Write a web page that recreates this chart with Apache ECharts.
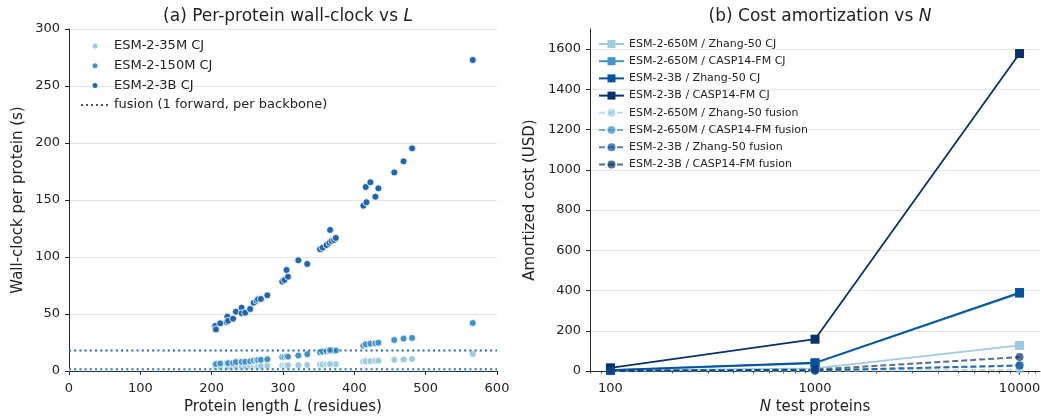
<!DOCTYPE html>
<html><head><meta charset="utf-8">
<script src="https://cdn.jsdelivr.net/npm/echarts@6/dist/echarts.min.js"></script>
<style>html,body{margin:0;padding:0;background:#fff}#c{width:1041px;height:416px}</style>
</head><body><div id="c"></div>
<script>
// ---------- Panel (a) data ----------
const proteinLength = [205,206,212,221,222,223,230,234,242,242,247,254,259,263,265,269,278,299,302,305,307,321.5,334,352,355.5,361,365,368,371.5,374,366,412.6,417,416,422.5,429.5,433.7,456,469,481,566];
const time3B   = [39.5,36.5,41.8,43,47.7,44,45.9,52,55.5,50.6,51.1,54.4,59.9,61.7,62.9,63.2,66.4,78.4,79.8,88.6,82.7,97.1,93.9,106.8,108.2,110.5,112.5,114,114.9,116.7,123.7,145,148,161.4,165.5,152.9,160.2,174.2,183.9,195.3,272.8];
const time150M = [6.2,6.0,6.5,6.8,7.2,6.9,7.1,7.8,8.4,8.0,8.1,8.5,9.2,9.4,9.6,9.8,10.3,12.2,12.4,12.8,12.6,13.6,14.8,16.4,17.0,17.4,17.8,17.9,17.6,18.0,18.3,22.2,23.0,23.4,24.0,24.3,24.8,27.2,28.4,29.0,42.1];
const time35M  = [3.4,3.3,3.5,3.6,3.8,3.7,3.8,4.0,4.1,4.0,4.1,4.2,4.3,4.3,4.4,4.4,4.5,4.8,4.9,5.0,5.0,5.1,5.2,5.6,5.7,5.8,5.9,5.9,6.0,6.0,6.1,8.3,8.5,8.6,8.7,8.9,9.0,9.8,10.1,10.6,14.9];
const fusion35M = 0.6, fusion150M = 1.8, fusion3B = 18.0;
const xRangeA = [0, 600];
const xTicksA = [0,100,200,300,400,500,600];
const yTicksA = [0,50,100,150,200,250,300];

// ---------- Panel (b) data ----------
const nProteins = [100, 1000, 10000];
const cj650Zhang = [1.3, 12.7, 127];
const cj650Casp  = [3.9, 38.5, 386];
const cj3BZhang  = [4.0, 41, 390];
const cj3BCasp   = [15.8, 158, 1578];
const fu650Zhang = [0.06, 0.6, 6];
const fu650Casp  = [0.26, 2.6, 26];
const fu3BZhang  = [0.28, 2.8, 28];
const fu3BCasp   = [0.69, 6.9, 69];
const xTicksB = [100, 1000, 10000];
const xMinorB = [80,90,200,300,400,500,600,700,800,900,2000,3000,4000,5000,6000,7000,8000,9000,11000,12000];
const yTicksB = [0,200,400,600,800,1000,1200,1400,1600];

const FONT = 'DejaVu Sans';
const AX = '#262626';
const GRID = '#e5e5e5';
const C35 = '#9ecae1', C150 = '#4292c6', C3B = '#2166ac';
const B1 = '#9ecae1', B2 = '#4292c6', B3 = '#08519c', B4 = '#08306b';

const zip = (a, b) => a.map((v, i) => [v, b[i]]);

function axisCommon(extra) {
  return Object.assign({
    axisLine: {show: true, lineStyle: {color: AX, width: 1}},
    axisTick: {show: true, inside: false, length: 4, lineStyle: {color: AX, width: 1}},
    axisLabel: {color: '#222', fontSize: 13, fontFamily: FONT},
    nameTextStyle: {color: '#222', fontSize: 15, fontFamily: FONT,
      rich: {i: {fontStyle: 'italic', fontSize: 15, fontFamily: FONT, color: '#222'}}},
    nameLocation: 'middle'
  }, extra);
}

const scatterStyle = (c) => ({color: c, borderColor: '#fff', borderWidth: 0.8, opacity: 1});

const option = {
  animation: false,
  backgroundColor: '#fff',
  textStyle: {fontFamily: FONT},
  title: [
    {text: '(a) Per-protein wall-clock vs {i|L}', left: 283, top: 3, textAlign: 'center',
     textStyle: {fontSize: 17, fontWeight: 'normal', color: '#222', fontFamily: FONT,
       rich: {i: {fontStyle: 'italic', fontSize: 17, fontFamily: FONT, color: '#222'}}}},
    {text: '(b) Cost amortization vs {i|N}', left: 815, top: 3, textAlign: 'center',
     textStyle: {fontSize: 17, fontWeight: 'normal', color: '#222', fontFamily: FONT,
       rich: {i: {fontStyle: 'italic', fontSize: 17, fontFamily: FONT, color: '#222'}}}}
  ],
  grid: [
    {left: 69, top: 29, width: 428, height: 342, outerBoundsMode: 'none', containLabel: false},
    {left: 590, top: 29, width: 450, height: 342, outerBoundsMode: 'none', containLabel: false}
  ],
  legend: [
    {data: [
       {name: 'ESM-2-35M CJ', icon: 'circle'},
       {name: 'ESM-2-150M CJ', icon: 'circle'},
       {name: 'ESM-2-3B CJ', icon: 'circle'},
       {name: 'fusion (1 forward, per backbone)', itemStyle: {opacity: 0}}],
     orient: 'vertical', left: 80, top: 39, itemWidth: 28, itemHeight: 7, itemGap: 5.7,
     padding: 0,
     textStyle: {fontSize: 13, fontFamily: FONT, color: '#222', lineHeight: 14}},
    {data: ['ESM-2-650M / Zhang-50 CJ','ESM-2-650M / CASP14-FM CJ','ESM-2-3B / Zhang-50 CJ','ESM-2-3B / CASP14-FM CJ',
            'ESM-2-650M / Zhang-50 fusion','ESM-2-650M / CASP14-FM fusion','ESM-2-3B / Zhang-50 fusion','ESM-2-3B / CASP14-FM fusion'],
     orient: 'vertical', left: 598, top: 38, itemWidth: 25, itemHeight: 10, itemGap: 5.2,
     padding: 0,
     textStyle: {fontSize: 11, fontFamily: FONT, color: '#222', lineHeight: 12}}
  ],
  xAxis: [
    axisCommon({gridIndex: 0, type: 'value', min: xRangeA[0], max: xRangeA[1], interval: 100,
      splitLine: {show: false}, name: 'Protein length {i|L} (residues)', nameGap: 28,
      axisLabel: {color: '#222', fontSize: 13, fontFamily: FONT, margin: 11,
        customValues: xTicksA}, axisTick: {show: true, length: 4, lineStyle: {color: AX}, customValues: xTicksA}}),
    axisCommon({gridIndex: 1, type: 'log', logBase: 10, min: 79.43, max: 12589,
      splitLine: {show: false}, name: '{i|N} test proteins', nameGap: 28,
      axisLabel: {color: '#222', fontSize: 13, fontFamily: FONT, margin: 11, customValues: xTicksB,
        formatter: (v) => String(Math.round(v))},
      axisTick: {show: true, length: 4, lineStyle: {color: AX}, customValues: xTicksB}}),
    {gridIndex: 1, type: 'log', logBase: 10, min: 79.43, max: 12589, position: 'bottom',
      axisLine: {show: false}, axisLabel: {show: false}, splitLine: {show: false},
      axisTick: {show: true, length: 2.5, lineStyle: {color: AX, width: 0.8}, customValues: xMinorB}}
  ],
  yAxis: [
    axisCommon({gridIndex: 0, type: 'value', min: 0, max: 300, interval: 50,
      splitLine: {show: true, lineStyle: {color: GRID, width: 1}},
      name: 'Wall-clock per protein (s)', nameGap: 43,
      axisLabel: {color: '#222', fontSize: 13, fontFamily: FONT, margin: 9, customValues: yTicksA},
      axisTick: {show: true, length: 4, lineStyle: {color: AX}, customValues: yTicksA}}),
    axisCommon({gridIndex: 1, type: 'value', min: 0, max: 1700, interval: 100,
      splitLine: {show: true, lineStyle: {color: GRID, width: 1}},
      name: 'Amortized cost (USD)', nameGap: 52,
      axisLabel: {color: '#222', fontSize: 13, fontFamily: FONT, margin: 9, customValues: yTicksB,
        formatter: (v) => String(v)},
      axisTick: {show: true, length: 4, lineStyle: {color: AX}, customValues: yTicksB}})
  ],
  series: [
    {name: 'ESM-2-35M CJ', type: 'scatter', xAxisIndex: 0, yAxisIndex: 0, symbolSize: 7,
     itemStyle: scatterStyle(C35), data: zip(proteinLength, time35M)},
    {name: 'ESM-2-150M CJ', type: 'scatter', xAxisIndex: 0, yAxisIndex: 0, symbolSize: 7,
     itemStyle: scatterStyle(C150), data: zip(proteinLength, time150M)},
    {name: 'ESM-2-3B CJ', type: 'scatter', xAxisIndex: 0, yAxisIndex: 0, symbolSize: 7,
     itemStyle: scatterStyle(C3B), data: zip(proteinLength, time3B)},
    {name: 'fusion35', type: 'line', xAxisIndex: 0, yAxisIndex: 0, symbol: 'none', silent: true,
     lineStyle: {color: C35, width: 2, type: [2, 3.2]}, data: [[xRangeA[0], fusion35M], [xRangeA[1], fusion35M]]},
    {name: 'fusion150', type: 'line', xAxisIndex: 0, yAxisIndex: 0, symbol: 'none', silent: true,
     lineStyle: {color: C150, width: 2, type: [2, 3.2]}, data: [[xRangeA[0], fusion150M], [xRangeA[1], fusion150M]]},
    {name: 'fusion3B', type: 'line', xAxisIndex: 0, yAxisIndex: 0, symbol: 'none', silent: true,
     lineStyle: {color: C3B, width: 2, type: [2, 3.2]}, data: [[xRangeA[0], fusion3B], [xRangeA[1], fusion3B]]},
    {name: 'fusion (1 forward, per backbone)', type: 'line', xAxisIndex: 0, yAxisIndex: 0, symbol: 'none',
     itemStyle: {color: '#555'}, lineStyle: {color: '#555', width: 2, type: [2, 3]}, data: []},

    {name: 'ESM-2-650M / Zhang-50 CJ', type: 'line', xAxisIndex: 1, yAxisIndex: 1, symbol: 'rect', symbolSize: 9,
     itemStyle: {color: B1}, lineStyle: {color: B1, width: 1.8}, data: zip(nProteins, cj650Zhang)},
    {name: 'ESM-2-650M / CASP14-FM CJ', type: 'line', xAxisIndex: 1, yAxisIndex: 1, symbol: 'rect', symbolSize: 9,
     itemStyle: {color: B2}, lineStyle: {color: B2, width: 1.8}, data: zip(nProteins, cj650Casp)},
    {name: 'ESM-2-3B / Zhang-50 CJ', type: 'line', xAxisIndex: 1, yAxisIndex: 1, symbol: 'rect', symbolSize: 9,
     itemStyle: {color: B3}, lineStyle: {color: B3, width: 1.8}, data: zip(nProteins, cj3BZhang)},
    {name: 'ESM-2-3B / CASP14-FM CJ', type: 'line', xAxisIndex: 1, yAxisIndex: 1, symbol: 'rect', symbolSize: 9,
     itemStyle: {color: B4}, lineStyle: {color: B4, width: 1.8}, data: zip(nProteins, cj3BCasp)},
    {name: 'ESM-2-650M / Zhang-50 fusion', type: 'line', xAxisIndex: 1, yAxisIndex: 1, symbol: 'circle', symbolSize: 8,
     itemStyle: {color: B1, opacity: 0.7}, lineStyle: {color: B1, width: 2, type: [6, 3], opacity: 0.7}, data: zip(nProteins, fu650Zhang)},
    {name: 'ESM-2-650M / CASP14-FM fusion', type: 'line', xAxisIndex: 1, yAxisIndex: 1, symbol: 'circle', symbolSize: 8,
     itemStyle: {color: B2, opacity: 0.7}, lineStyle: {color: B2, width: 2, type: [6, 3], opacity: 0.7}, data: zip(nProteins, fu650Casp)},
    {name: 'ESM-2-3B / Zhang-50 fusion', type: 'line', xAxisIndex: 1, yAxisIndex: 1, symbol: 'circle', symbolSize: 8,
     itemStyle: {color: B3, opacity: 0.7}, lineStyle: {color: B3, width: 2, type: [6, 3], opacity: 0.7}, data: zip(nProteins, fu3BZhang)},
    {name: 'ESM-2-3B / CASP14-FM fusion', type: 'line', xAxisIndex: 1, yAxisIndex: 1, symbol: 'circle', symbolSize: 8,
     itemStyle: {color: B4, opacity: 0.7}, lineStyle: {color: B4, width: 2, type: [6, 3], opacity: 0.7}, data: zip(nProteins, fu3BCasp)}
  ]
};
const chart = echarts.init(document.getElementById('c'), null, {renderer: 'canvas'});
chart.setOption(option);
</script></body></html>
